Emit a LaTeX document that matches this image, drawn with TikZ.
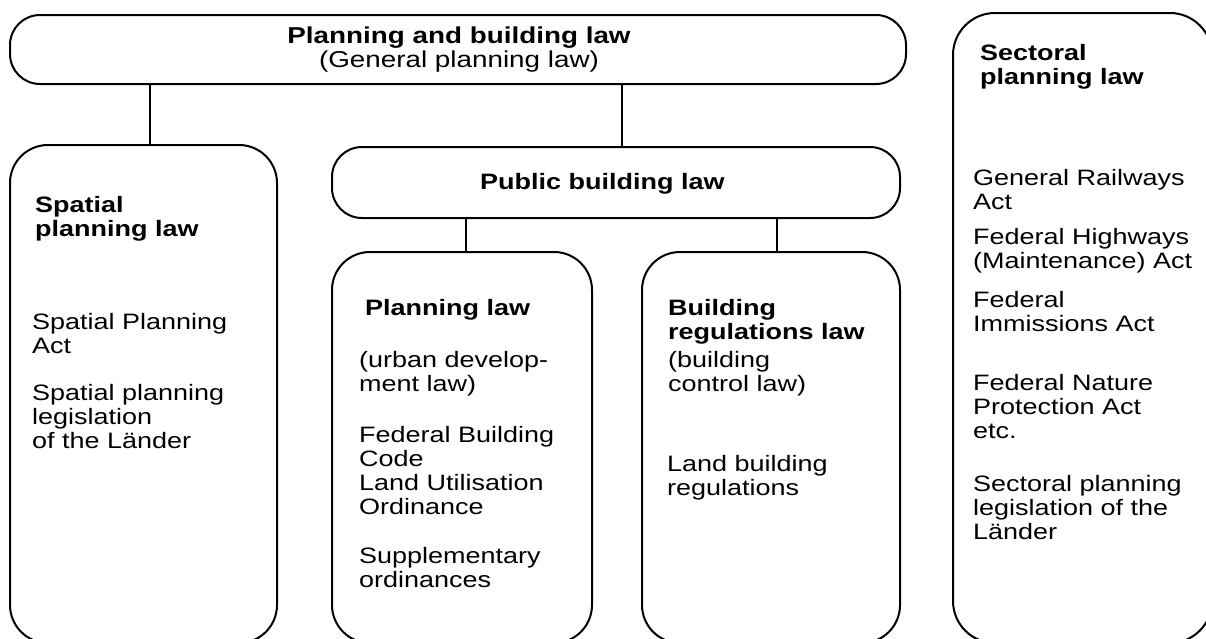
\documentclass[tikz,border=0pt]{standalone}
\usepackage{fontspec}
\setmainfont[FakeStretch=1.21]{Liberation Sans}
\begin{document}
\begin{tikzpicture}[x=1pt,y=-1pt,
  lawbox/.style={draw=black, line width=2pt, inner sep=0pt, outer sep=0pt},
  headtxt/.style={font=\fontsize{22.3}{24.5}\selectfont\bfseries, anchor=base west, align=left, inner sep=0pt},
  bodytxt/.style={font=\fontsize{22.3}{24}\selectfont, anchor=base west, align=left, inner sep=0pt},
  link/.style={draw=black, line width=1.3pt}]
\clip (0,0) rectangle (1206,638);
\fill[white] (0,0) rectangle (1206,638);

% boxes
\node[lawbox, rounded corners=30pt, minimum width=896pt, minimum height=69pt] (top) at (458,49.5) {};
\node[lawbox, rounded corners=30pt, minimum width=568pt, minimum height=71pt] (pub) at (616,182.5) {};
\node[lawbox, rounded corners=38pt, minimum width=267pt, minimum height=498pt] (spatial) at (143.5,394) {};
\node[lawbox, rounded corners=38pt, minimum width=260pt, minimum height=391pt] (plan) at (462,447.5) {};
\node[lawbox, rounded corners=38pt, minimum width=258pt, minimum height=391pt] (breg) at (771,447.5) {};
\node[lawbox, rounded corners=42pt, minimum width=259pt, minimum height=630pt] (sect) at (1082.5,328) {};

% connector positions
\coordinate (c1) at (150,0);
\coordinate (c2) at (622,0);
\coordinate (c3) at (466,0);
\coordinate (c4) at (777,0);
\draw[link] (top.south -| c1) -- (spatial.north -| c1);
\draw[link] (top.south -| c2) -- (pub.north -| c2);
\draw[link] (pub.south -| c3) -- (plan.north -| c3);
\draw[link] (pub.south -| c4) -- (breg.north -| c4);

% top text (base = last line)
\node[font=\fontsize{23}{23.5}\selectfont, align=center, inner sep=0pt, anchor=base] (toptxt) at (459,67)
  {\textbf{Planning and building law}\\(General planning law)};
\node[headtxt] (pubtxt) at (480,189) {Public building law};

% spatial planning
\node[headtxt] (sph) at (35,236.5) {Spatial\\planning law};
\node[bodytxt] (sp1) at (32,353) {Spatial Planning\\Act};
\node[bodytxt] (sp2) at (32,448) {Spatial planning\\legislation\\of the Länder};

% planning law
\node[headtxt] (plh) at (365,315) {Planning law};
\node[bodytxt] (pl1) at (359,391) {(urban develop-\\ment law)};
\node[bodytxt] (pl2) at (359,514) {Federal Building\\Code\\Land Utilisation\\Ordinance};
\node[bodytxt] (pl3) at (359,587) {Supplementary\\ordinances};

% building regulations law
\node[headtxt] (brh) at (668,339.5) {Building\\regulations law};
\node[bodytxt] (br1) at (668,391) {(building\\control law)};
\node[bodytxt] (br2) at (667,495) {Land building\\regulations};

% sectoral planning law
\node[headtxt] (seh) at (980,84.5) {Sectoral\\planning law};
\node[bodytxt] (se1) at (973,209) {General Railways\\Act};
\node[bodytxt] (se2) at (973,268) {Federal Highways\\(Maintenance) Act};
\node[bodytxt] (se3) at (973,331) {Federal\\Immissions Act};
\node[bodytxt] (se4) at (973,438) {Federal Nature\\Protection Act\\etc.};
\node[bodytxt] (se5) at (973,539) {Sectoral planning\\legislation of the\\Länder};
\end{tikzpicture}
\end{document}
